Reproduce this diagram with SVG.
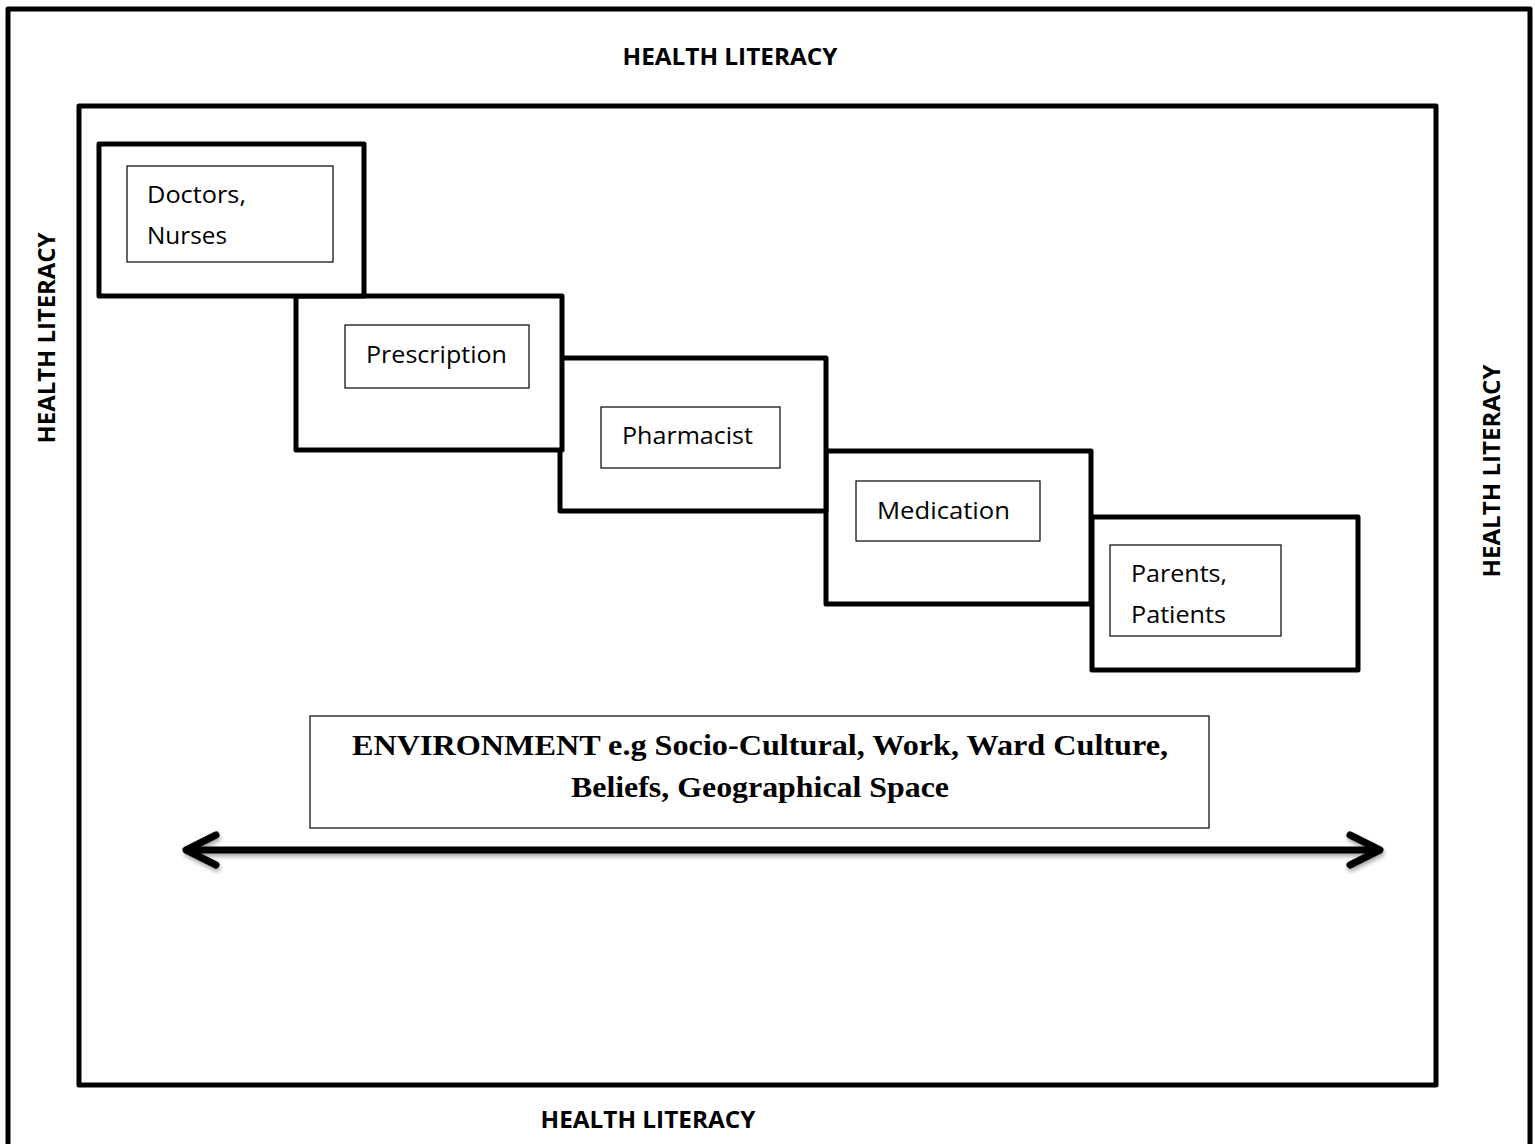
<svg xmlns="http://www.w3.org/2000/svg" width="1535" height="1144" viewBox="0 0 1535 1144">
<defs>
<style>
.frame{fill:none;stroke:#000;stroke-width:5;stroke-linejoin:round}
.box{fill:#fff;stroke:#000;stroke-width:5;stroke-linejoin:round}
.inner{fill:#fff;stroke:#000;stroke-width:1.2}
.hl{font-family:"Open Sans","Liberation Sans",sans-serif;font-weight:bold;font-size:23px;fill:#000}
.lbl{font-family:"Open Sans","Liberation Sans",sans-serif;font-size:23px;fill:#000}
.env{font-family:"Liberation Serif","Times New Roman",serif;font-weight:bold;font-size:29px;fill:#000}
.arr{fill:none;stroke:#000;stroke-width:7;stroke-linecap:round;stroke-linejoin:round}
</style>
<filter id="sh" x="-5%" y="-50%" width="110%" height="200%">
<feGaussianBlur in="SourceAlpha" stdDeviation="2"/>
<feOffset dx="1" dy="3"/>
<feComponentTransfer><feFuncA type="linear" slope="0.35"/></feComponentTransfer>
<feMerge><feMergeNode/><feMergeNode in="SourceGraphic"/></feMerge>
</filter>
</defs>
<rect width="1535" height="1144" fill="#fff"/>
<g id="outer-frame">
<path class="frame" d="M8 1150 V9 H1530 V1150"/>
</g>
<g id="inner-frame">
<rect class="frame" x="79" y="106" width="1357" height="979"/>
</g>
<g id="labels">
<text class="hl" x="730" y="65" text-anchor="middle" textLength="215" lengthAdjust="spacingAndGlyphs">HEALTH LITERACY</text>
<text class="hl" x="648" y="1128" text-anchor="middle" textLength="215" lengthAdjust="spacingAndGlyphs">HEALTH LITERACY</text>
<text class="hl" transform="translate(55,338) rotate(-90)" text-anchor="middle" textLength="211" lengthAdjust="spacingAndGlyphs">HEALTH LITERACY</text>
<text class="hl" transform="translate(1500,471) rotate(-90)" text-anchor="middle" textLength="213" lengthAdjust="spacingAndGlyphs">HEALTH LITERACY</text>
</g>
<g id="node-parents">
<rect class="box" x="1092" y="517" width="266" height="153"/>
<rect class="inner" x="1110" y="545" width="171" height="91"/>
<text class="lbl" x="1131" y="582" textLength="96" lengthAdjust="spacingAndGlyphs">Parents,</text>
<text class="lbl" x="1131" y="623" textLength="95" lengthAdjust="spacingAndGlyphs">Patients</text>
</g>
<g id="node-medication">
<rect class="box" x="826" y="451" width="265" height="153"/>
<rect class="inner" x="856" y="481" width="184" height="60"/>
<text class="lbl" x="877" y="519" textLength="133" lengthAdjust="spacingAndGlyphs">Medication</text>
</g>
<g id="node-pharmacist">
<rect class="box" x="560" y="358" width="266" height="153"/>
<rect class="inner" x="601" y="407" width="179" height="61"/>
<text class="lbl" x="622" y="444" textLength="131" lengthAdjust="spacingAndGlyphs">Pharmacist</text>
</g>
<g id="node-prescription">
<rect class="box" x="296" y="296" width="266" height="154"/>
<rect class="inner" x="345" y="325" width="184" height="63"/>
<text class="lbl" x="366" y="363" textLength="141" lengthAdjust="spacingAndGlyphs">Prescription</text>
</g>
<g id="node-doctors">
<rect class="box" x="99" y="144" width="265" height="152"/>
<rect class="inner" x="127" y="166" width="206" height="96"/>
<text class="lbl" x="147" y="203" textLength="99" lengthAdjust="spacingAndGlyphs">Doctors,</text>
<text class="lbl" x="147" y="244" textLength="80" lengthAdjust="spacingAndGlyphs">Nurses</text>
</g>
<g id="node-environment">
<rect class="inner" x="310" y="716" width="899" height="112"/>
<text class="env" x="760" y="755" text-anchor="middle" textLength="816" lengthAdjust="spacingAndGlyphs">ENVIRONMENT e.g Socio-Cultural, Work, Ward Culture,</text>
<text class="env" x="760" y="797" text-anchor="middle" textLength="378" lengthAdjust="spacingAndGlyphs">Beliefs, Geographical Space</text>
</g>
<g id="connectors" filter="url(#sh)">
<path class="arr" d="M188 850 H1378"/>
<path class="arr" d="M216 835 L186 850 L216 865"/>
<path class="arr" d="M1350 835 L1380 850 L1350 865"/>
</g>
</svg>
